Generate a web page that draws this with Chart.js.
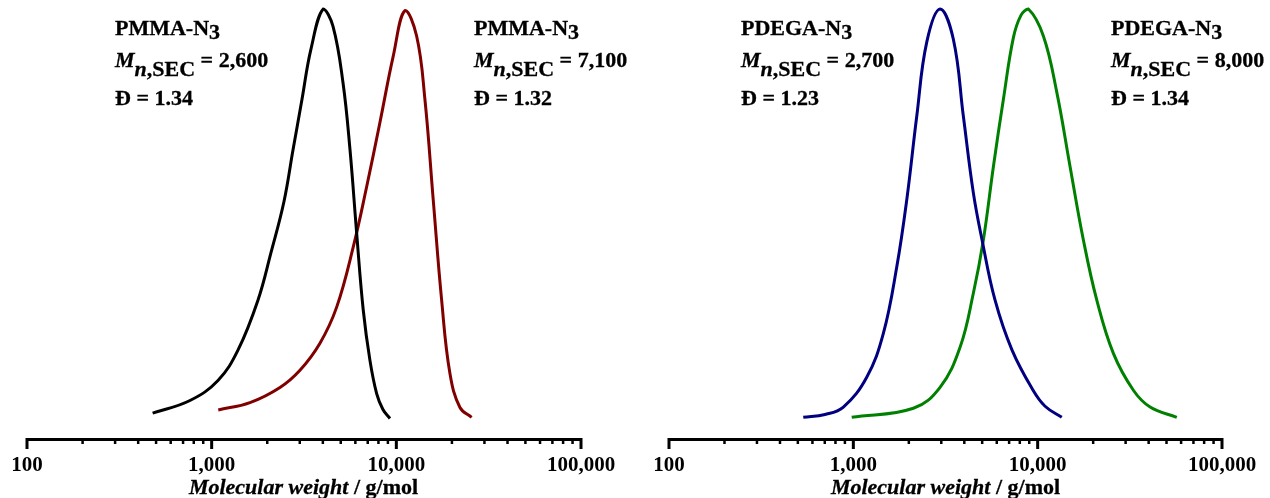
<!DOCTYPE html>
<html>
<head>
<meta charset="utf-8">
<script src="https://cdn.jsdelivr.net/npm/chart.js@4.4.1/dist/chart.umd.min.js"></script>
<style>
  html, body { margin: 0; padding: 0; background: #fff; }
  #wrap { position: relative; width: 1270px; height: 498px; overflow: hidden; }
  .panel { position: absolute; top: 0; width: 635px; height: 498px; }
  .ann { position: absolute; font: bold 22px 'Liberation Serif', 'Times New Roman', serif; color: #000; white-space: nowrap; line-height: 22px; -webkit-text-stroke: 0.3px #000; }
  .lo { position: relative; top: 4px; }
  .lo2 { position: relative; top: 9px; }
  .xt { position: absolute; top: 476px; width: 635px; text-align: center; font: bold 22px 'Liberation Serif', 'Times New Roman', serif; line-height: 22px; color: #000; -webkit-text-stroke: 0.3px #000; }
</style>
</head>
<body>
<div id="wrap">
  <div class="panel" style="left:0"><canvas id="leftChart" width="635" height="498"></canvas></div>
  <div class="panel" style="left:635px"><canvas id="rightChart" width="635" height="498"></canvas></div>

  <!-- annotations -->
  <div class="ann" style="left:115px;top:17px">PMMA-N<span class="lo">3</span></div>
  <div class="ann" style="left:115px;top:49px"><i>M</i><span class="lo2"><i>n</i>,SEC</span> = 2,600</div>
  <div class="ann" style="left:115px;top:87px">Đ = 1.34</div>

  <div class="ann" style="left:474px;top:17px">PMMA-N<span class="lo">3</span></div>
  <div class="ann" style="left:474px;top:49px"><i>M</i><span class="lo2"><i>n</i>,SEC</span> = 7,100</div>
  <div class="ann" style="left:474px;top:87px">Đ = 1.32</div>

  <div class="ann" style="left:741px;top:17px">PDEGA-N<span class="lo">3</span></div>
  <div class="ann" style="left:741px;top:49px"><i>M</i><span class="lo2"><i>n</i>,SEC</span> = 2,700</div>
  <div class="ann" style="left:741px;top:87px">Đ = 1.23</div>

  <div class="ann" style="left:1111px;top:17px">PDEGA-N<span class="lo">3</span></div>
  <div class="ann" style="left:1111px;top:49px"><i>M</i><span class="lo2"><i>n</i>,SEC</span> = 8,000</div>
  <div class="ann" style="left:1111px;top:87px">Đ = 1.34</div>

  <div class="xt" style="left:-14px"><i>Molecular weight</i> / g/mol</div>
  <div class="xt" style="left:628px"><i>Molecular weight</i> / g/mol</div>
</div>

<script>
// axis ticks
const majorTicks = [100, 1000, 10000, 100000];
const minorTicks = [200, 300, 400, 500, 600, 700, 800, 900,
                    2000, 3000, 4000, 5000, 6000, 7000, 8000, 9000,
                    20000, 30000, 40000, 50000, 60000, 70000, 80000, 90000];

// PMMA-N3, Mn 2,600 (black)
const pmmaAM = [479, 763, 1082, 1388, 1781, 2095, 2464, 2755, 3083, 3449, 4020, 4537, 5139, 5610, 6097, 6619, 7196, 7824, 8463, 9235];
const pmmaAY = [0.013, 0.044, 0.093, 0.167, 0.289, 0.405, 0.530, 0.655, 0.779, 0.902, 1.0, 0.958, 0.821, 0.657, 0.453, 0.265, 0.142, 0.061, 0.022, 0.0];

// PMMA-N3, Mn 7,100 (dark red)
const pmmaBM = [1086, 1612, 2344, 3007, 3859, 4752, 5845, 6907, 8150, 9621, 11131, 12880, 14285, 15843, 17593, 19512, 22105, 25566];
const pmmaBY = [0.021, 0.039, 0.076, 0.118, 0.184, 0.272, 0.419, 0.566, 0.723, 0.885, 0.996, 0.934, 0.779, 0.534, 0.289, 0.110, 0.027, 0.003];

// PDEGA-N3, Mn 2,700 (navy)
const pdegaAM = [535, 702, 883, 1182, 1455, 1720, 1949, 2208, 2502, 2954, 3488, 3953, 4478, 4993, 5873, 7262, 9441, 10970, 13513];
const pdegaAY = [0.003, 0.010, 0.028, 0.101, 0.208, 0.370, 0.534, 0.738, 0.919, 1.0, 0.926, 0.738, 0.551, 0.436, 0.289, 0.167, 0.069, 0.030, 0.003];

// PDEGA-N3, Mn 8,000 (green)
const pdegaBM = [980, 2117, 2954, 3793, 4478, 5075, 5751, 6515, 7383, 8126, 8904, 10738, 12694, 14992, 17701, 20929, 25747, 33056, 40730, 56862];
const pdegaBY = [0.003, 0.025, 0.076, 0.174, 0.306, 0.436, 0.615, 0.779, 0.930, 0.985, 1.0, 0.934, 0.797, 0.615, 0.436, 0.289, 0.159, 0.069, 0.028, 0.003];

const serif = "'Liberation Serif', 'Times New Roman', serif";
const tickValues = majorTicks.concat(minorTicks).sort((a, b) => a - b);

function pts(xs, ys) {
  return xs.map((x, i) => ({ x: x, y: ys[i] }));
}

function curve(xs, ys, color) {
  return {
    data: pts(xs, ys),
    borderColor: color,
    borderWidth: 3,
    pointRadius: 0,
    tension: 0.4,
    fill: false,
    clip: false
  };
}

// tick marks: long for decades, short in between
const tickMarks = {
  id: 'tickMarks',
  afterDraw(chart) {
    const sc = chart.scales.x;
    const ctx = chart.ctx;
    const y0 = chart.chartArea.bottom;
    ctx.save();
    ctx.strokeStyle = '#000';
    sc.ticks.forEach(t => {
      const major = majorTicks.includes(t.value);
      const x = sc.getPixelForValue(t.value);
      ctx.lineWidth = major ? 3 : 2.5;
      ctx.beginPath();
      ctx.moveTo(x, y0 - 1);
      ctx.lineTo(x, y0 + (major ? 10 : 5));
      ctx.stroke();
    });
    ctx.restore();
  }
};

function makeChart(id, datasets, padL, padR) {
  const ctx = document.getElementById(id).getContext('2d');
  return new Chart(ctx, {
    type: 'line',
    data: { datasets: datasets },
    plugins: [tickMarks],
    options: {
      responsive: false,
      animation: false,
      layout: { padding: { left: padL, right: padR, top: 9, bottom: 0 } },
      plugins: { legend: { display: false }, tooltip: { enabled: false } },
      scales: {
        x: {
          type: 'logarithmic',
          min: 100,
          max: 100000,
          afterBuildTicks: s => { s.ticks = tickValues.map(v => ({ value: v })); },
          afterFit: s => { s.height = 59; },
          grid: { drawOnChartArea: false, drawTicks: true, tickLength: 9, tickColor: 'rgba(0,0,0,0)' },
          border: { display: true, color: '#000', width: 3 },
          ticks: {
            autoSkip: false,
            maxRotation: 0,
            padding: 5,
            color: '#000',
            font: { family: serif, size: 21, weight: 'bold' },
            callback: v => majorTicks.includes(v) ? v.toLocaleString('en-US') : ''
          }
        },
        y: { display: false, min: -0.05, max: 1.0 }
      }
    }
  });
}

const leftChart = makeChart('leftChart', [
  curve(pmmaAM, pmmaAY, '#000000'),
  curve(pmmaBM, pmmaBY, '#800000')
], 27, 54);

const rightChart = makeChart('rightChart', [
  curve(pdegaAM, pdegaAY, '#000080'),
  curve(pdegaBM, pdegaBY, '#008000')
], 34, 48);
</script>
</body>
</html>
